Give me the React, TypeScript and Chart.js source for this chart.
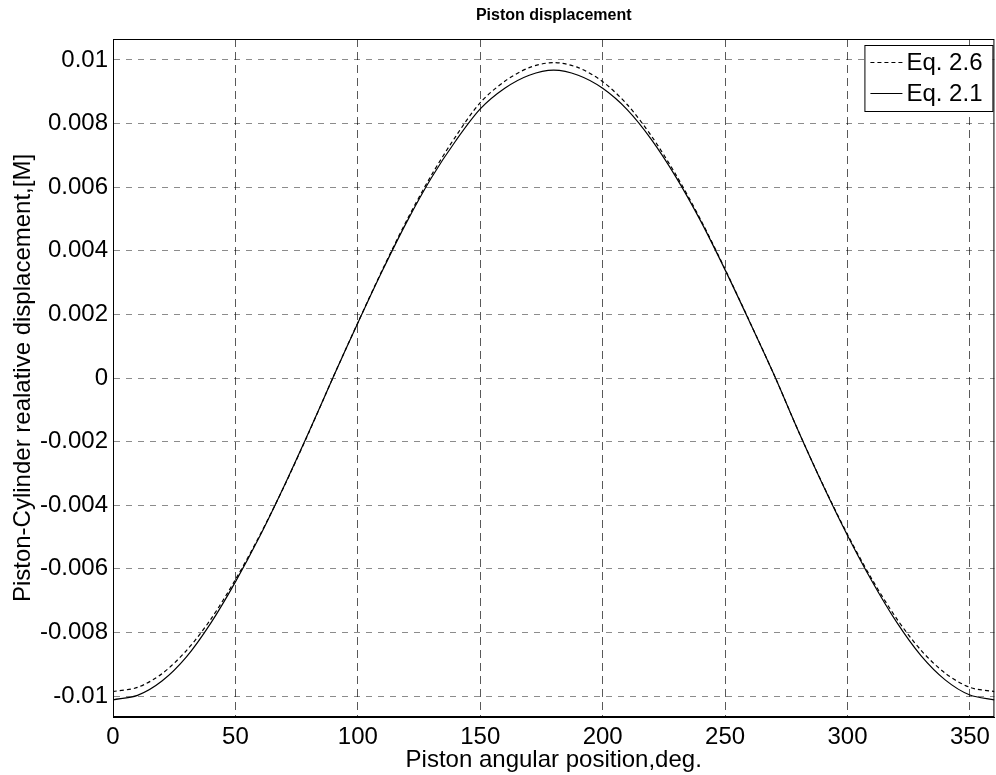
import React, { useEffect, useRef } from "react";
import { Chart, registerables } from "chart.js";

Chart.register(...registerables);

const chartTitle = "Piston displacement";
const xAxisTitle = "Piston angular position,deg.";
const yAxisTitle = "Piston-Cylinder realative displacement,[M]";

const angleDeg = [0, 10, 20, 30, 40, 50, 60, 70, 80, 90, 100, 110, 120, 130, 140, 150, 160, 170, 180, 190, 200, 210, 220, 230, 240, 250, 260, 270, 280, 290, 300, 310, 320, 330, 340, 350, 360];

const eq26Label = "Eq. 2.6";
const eq26 = [-0.00986, -0.00973, -0.0093, -0.00857, -0.00758, -0.00634, -0.00494, -0.00339, -0.00171, 0.00004, 0.00174, 0.0034, 0.00496, 0.00637, 0.0076, 0.00866, 0.00933, 0.00976, 0.00992, 0.00976, 0.00932, 0.0086, 0.0076, 0.00638, 0.00498, 0.00342, 0.00178, 0.0001, -0.00168, -0.00336, -0.00492, -0.00633, -0.00756, -0.00856, -0.00929, -0.00973, -0.00986];

const eq21Label = "Eq. 2.1";
const eq21 = [-0.01012, -0.00998, -0.00953, -0.00877, -0.0077, -0.00641, -0.00497, -0.00338, -0.0017, 0.00004, 0.00173, 0.00337, 0.00491, 0.00629, 0.00746, 0.00846, 0.00911, 0.00952, 0.00968, 0.00952, 0.00911, 0.00844, 0.00749, 0.00631, 0.00494, 0.0034, 0.00177, 0.0001, -0.00168, -0.00337, -0.00495, -0.00639, -0.00767, -0.00873, -0.0095, -0.00997, -0.01012];

const xTickValues = [0, 50, 100, 150, 200, 250, 300, 350];
const yTickValues = [-0.01, -0.008, -0.006, -0.004, -0.002, 0, 0.002, 0.004, 0.006, 0.008, 0.01];

const FONT = "'Liberation Sans', Arial, Helvetica, sans-serif";

const framePlugin = {
  id: "frameAndLegend",
  afterDatasetsDraw(chart: any) {
    const { ctx, chartArea: a } = chart;
    ctx.save();
    ctx.strokeStyle = "#000";
    ctx.lineWidth = 1;
    ctx.setLineDash([]);
    ctx.strokeRect(a.left + 0.5, a.top + 0.5, a.right - a.left - 1, a.bottom - a.top - 1);

    // legend box
    const bw = 128;
    const bh = 66;
    const bx = a.right - 2 - bw;
    const by = a.top + 6;
    ctx.fillStyle = "#fff";
    ctx.fillRect(bx, by, bw, bh);
    ctx.strokeStyle = "#000";
    ctx.strokeRect(bx + 0.5, by + 0.5, bw, bh);
    const rows = [17, 48];
    chart.data.datasets.forEach((ds: any, i: number) => {
      const y = by + rows[i];
      ctx.beginPath();
      ctx.setLineDash(ds.borderDash || []);
      ctx.lineWidth = 1.2;
      ctx.strokeStyle = "#000";
      ctx.moveTo(bx + 6, y + 0.5);
      ctx.lineTo(bx + 38, y + 0.5);
      ctx.stroke();
      ctx.setLineDash([]);
      ctx.fillStyle = "#000";
      ctx.font = `24px ${FONT}`;
      ctx.textBaseline = "middle";
      ctx.textAlign = "left";
      ctx.fillText(ds.label, bx + 42, y + 1);
    });
    ctx.restore();
  },
};

export default function App() {
  const canvasRef = useRef<HTMLCanvasElement | null>(null);

  useEffect(() => {
    const canvas = canvasRef.current;
    if (!canvas) return;
    const toPts = (ys: number[]) => angleDeg.map((x, i) => ({ x, y: ys[i] }));
    const chart = new Chart(canvas, {
      type: "line",
      data: {
        datasets: [
          {
            label: eq26Label,
            data: toPts(eq26),
            borderColor: "#000",
            borderWidth: 1.2,
            borderDash: [4, 3],
            pointRadius: 0,
            tension: 0.3,
            fill: false,
          },
          {
            label: eq21Label,
            data: toPts(eq21),
            borderColor: "#000",
            borderWidth: 1.2,
            pointRadius: 0,
            tension: 0.3,
            fill: false,
          },
        ],
      },
      options: {
        responsive: false,
        animation: false,
        devicePixelRatio: 1,
        layout: { padding: { left: 0, right: 1, top: 0, bottom: 0 } },
        plugins: {
          legend: { display: false },
          tooltip: { enabled: false },
          title: {
            display: true,
            text: chartTitle,
            fullSize: false,
            color: "#000",
            font: { family: FONT, size: 16, weight: "bold" },
            padding: { top: 6, bottom: 13.8 },
          },
        },
        scales: {
          x: {
            type: "linear",
            min: 0,
            max: 360,
            afterBuildTicks: (scale: any) => {
              scale.ticks = xTickValues.map((v) => ({ value: v }));
            },
            afterFit: (scale: any) => {
              scale.height = 58;
            },
            ticks: {
              color: "#000",
              font: { family: FONT, size: 24 },
              padding: 6,
              maxRotation: 0,
              autoSkip: false,
            },
            grid: {
              color: "rgba(0,0,0,0.65)",
              lineWidth: 1,
              drawTicks: false,
            },
            border: { display: true, color: "#000", dash: [8, 5] },
            title: {
              display: true,
              text: xAxisTitle,
              color: "#000",
              font: { family: FONT, size: 24 },
              padding: { top: 0, bottom: 0 },
            },
          },
          y: {
            type: "linear",
            min: -0.01066,
            max: 0.01066,
            afterBuildTicks: (scale: any) => {
              scale.ticks = yTickValues.map((v) => ({ value: v }));
            },
            afterFit: (scale: any) => {
              scale.width = 113;
            },
            ticks: {
              color: "#000",
              font: { family: FONT, size: 24 },
              padding: 5,
              autoSkip: false,
              callback: (v: any) => {
                const n = Number(v);
                if (Math.abs(n) < 1e-12) return "0";
                return String(Number(n.toFixed(3)));
              },
            },
            grid: {
              color: "rgba(0,0,0,0.45)",
              lineWidth: 1,
              drawTicks: false,
            },
            border: { display: true, color: "#000", dash: [6, 6] },
            title: {
              display: true,
              text: yAxisTitle,
              color: "#000",
              font: { family: FONT, size: 24 },
              padding: { top: 9, bottom: 0 },
            },
          },
        },
      },
      plugins: [framePlugin],
    } as any);
    return () => chart.destroy();
  }, []);

  return (
    <div style={{ position: "absolute", left: 0, top: 0, width: 996, height: 775, background: "#fff" }}>
      <canvas ref={canvasRef} width={996} height={775} style={{ display: "block" }} />
    </div>
  );
}
